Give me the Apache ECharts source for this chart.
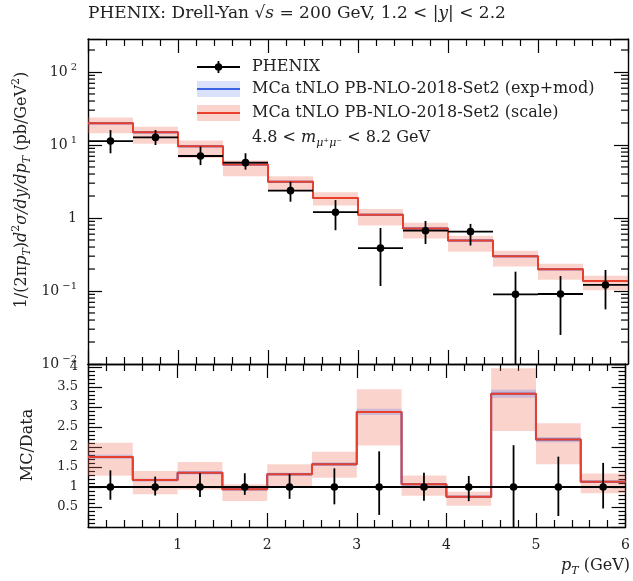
<!DOCTYPE html>
<html><head><meta charset="utf-8">
<script src="https://cdn.jsdelivr.net/npm/echarts@6/dist/echarts.min.js"></script>
<style>html,body{margin:0;padding:0;background:#fff}#c{width:633px;height:581px}</style>
</head><body><div id="c"></div>
<script>
// ---- data ----
const binEdges = [0, 0.5, 1, 1.5, 2, 2.5, 3, 3.5, 4, 4.5, 5, 5.5, 6];
const dataVal  = [11.3, 12.7, 7.07, 5.73, 2.37, 1.2, 0.386, 0.67, 0.65, 0.090, 0.091, 0.121];
const dataHi   = [16.0, 16.0, 9.5, 7.7, 3.14, 1.76, 0.73, 0.91, 0.83, 0.184, 0.16, 0.194];
const dataLo   = [7.7, 10.0, 5.3, 4.6, 1.67, 0.68, 0.117, 0.44, 0.42, 0, 0.025, 0.056];
const mcVal    = [19.8, 14.9, 9.6, 5.4, 3.13, 1.88, 1.11, 0.717, 0.49, 0.30, 0.199, 0.137];
const mcScaleLo= [14.5, 10.4, 6.65, 3.72, 2.32, 1.48, 0.787, 0.523, 0.345, 0.216, 0.143, 0.102];
const mcScaleHi= [23.8, 17.8, 11.5, 6.13, 3.72, 2.26, 1.33, 0.864, 0.572, 0.357, 0.236, 0.162];
const mcExpLo  = [19.2, 14.4, 9.3, 5.25, 3.04, 1.83, 1.08, 0.697, 0.476, 0.291, 0.193, 0.133];
const mcExpHi  = [20.4, 15.4, 9.9, 5.56, 3.22, 1.94, 1.14, 0.738, 0.505, 0.309, 0.205, 0.141];
const xTickLabels = ['1', '2', '3', '4', '5', '6'];
const logMultipliers = [2, 3, 4, 5, 6, 7, 8, 9];
const logDecades = [0.01, 0.1, 1, 10, 100];

const legendNames = ['PHENIX', 'MCa tNLO PB-NLO-2018-Set2 (exp+mod)', 'MCa tNLO PB-NLO-2018-Set2 (scale)'];

// ---- styles ----
const FONT = 'DejaVu Serif';
const RED = '#e8402c', RED_BAND = 'rgba(240,110,90,0.30)';
const BLUE = '#3b62e0', BLUE_BAND = 'rgba(70,110,235,0.25)';
const N = dataVal.length;
const centers = dataVal.map((_, i) => (binEdges[i] + binEdges[i + 1]) / 2);
const halfW = dataVal.map((_, i) => (binEdges[i + 1] - binEdges[i]) / 2);

const minorLog = [];
logDecades.forEach(d => logMultipliers.forEach(m => { if (d * m < 283) minorLog.push(d * m); }));

function bandSeries(x, y, lo, hi, color) {
  return {
    type: 'custom', xAxisIndex: x, yAxisIndex: y, clip: true, silent: true,
    data: dataVal.map((_, i) => [binEdges[i], binEdges[i + 1], lo[i], hi[i]]),
    renderItem: function (p, api) {
      const a = api.coord([api.value(0), api.value(3)]);
      const b = api.coord([api.value(1), api.value(2)]);
      return { type: 'rect', shape: { x: a[0], y: a[1], width: b[0] - a[0], height: b[1] - a[1] }, style: { fill: color } };
    }
  };
}
function stepSeries(x, y, vals, color, w) {
  return {
    type: 'line', xAxisIndex: x, yAxisIndex: y, step: 'end', symbol: 'none', silent: true,
    lineStyle: { color: color, width: w }, clip: true,
    data: binEdges.map((e, i) => [e, vals[Math.min(i, N - 1)]])
  };
}
function pointSeries(x, y, vals, lo, hi, floor) {
  return {
    type: 'custom', xAxisIndex: x, yAxisIndex: y, clip: true, silent: true, z: 10,
    data: vals.map((v, i) => [centers[i], v, Math.max(lo[i], floor), hi[i], halfW[i]]),
    renderItem: function (p, api) {
      const xc = api.value(0), v = api.value(1), hw = api.value(4);
      const c = api.coord([xc, v]);
      const l = api.coord([xc - hw, v]), r = api.coord([xc + hw, v]);
      const lo = api.coord([xc, api.value(2)]), hi = api.coord([xc, api.value(3)]);
      const st = { stroke: '#000', lineWidth: 1.8 };
      return { type: 'group', children: [
        { type: 'line', shape: { x1: l[0], y1: c[1], x2: r[0], y2: c[1] }, style: st },
        { type: 'line', shape: { x1: c[0], y1: hi[1], x2: c[0], y2: lo[1] }, style: st },
        { type: 'circle', shape: { cx: c[0], cy: c[1], r: 3.8 }, style: { fill: '#000' } }
      ] };
    }
  };
}

const axisLine = { show: true, onZero: false, lineStyle: { color: '#000', width: 1.4 } };
const tickStyle = { color: '#000', width: 1.2 };
function xAx(grid, pos, labels) {
  return {
    type: 'value', gridIndex: grid, position: pos, min: 0, max: 6, interval: 1,
    axisLine: axisLine, splitLine: { show: false },
    axisTick: { show: true, inside: true, length: 14, lineStyle: tickStyle },
    minorTick: { show: true, splitNumber: 5, length: 7, lineStyle: tickStyle },
    axisLabel: labels ? {
      show: true, margin: 11, color: '#222', fontFamily: FONT, fontSize: 14,
      formatter: v => { const k = Math.round(v); return (Math.abs(v - k) < 1e-6 && k >= 1) ? xTickLabels[k - 1] : ''; }
    } : { show: false }
  };
}
function logLabel(v) {
  const l = Math.log10(v), e = Math.round(l);
  if (Math.abs(l - e) > 1e-6) return '';
  if (e === 0) return '{b|1}';
  return '{b|10}{s|' + (e < 0 ? '\u2212' + (-e) : e) + '}';
}
function yLog(pos, labels) {
  return {
    type: 'log', gridIndex: 0, position: pos, min: 0.01, max: 283, logBase: 10,
    axisLine: axisLine, splitLine: { show: false },
    axisTick: { show: true, inside: true, length: 14, lineStyle: tickStyle },
    axisLabel: labels ? {
      show: true, margin: 11, color: '#222', fontFamily: FONT, formatter: logLabel,
      rich: { b: { fontSize: 14, fontFamily: FONT, color: '#222', lineHeight: 19 },
              s: { fontSize: 10, fontFamily: FONT, color: '#222', verticalAlign: 'top', lineHeight: 10, padding: [0, 0, 0, 3] } }
    } : { show: false }
  };
}
function yRatio(pos, labels) {
  return {
    type: 'value', gridIndex: 1, position: pos, min: 0, max: 4.075, interval: 0.5,
    axisLine: axisLine, splitLine: { show: false },
    axisTick: { show: true, inside: true, length: 14, lineStyle: tickStyle },
    minorTick: { show: true, splitNumber: 5, length: 7, lineStyle: tickStyle },
    axisLabel: labels ? {
      show: true, margin: 10, color: '#222', fontFamily: FONT, fontSize: 13,
      formatter: v => (v > 0 && Math.abs(v * 2 - Math.round(v * 2)) < 1e-6) ? String(v) : ''
    } : { show: false }
  };
}

const ratio = (arr) => arr.map((v, i) => v / dataVal[i]);

const option = {
  animation: false,
  backgroundColor: '#fff',
  grid: [
    { left: 88, top: 39, width: 540, height: 325 },
    { left: 88, top: 364, width: 540, height: 163 }
  ],
  xAxis: [xAx(0, 'bottom', false), xAx(0, 'top', false), xAx(1, 'bottom', true), xAx(1, 'top', false)],
  yAxis: [yLog('left', true), yLog('right', false), yRatio('left', true), yRatio('right', false)],
  series: [
    // main log minor ticks
    {
      type: 'custom', xAxisIndex: 0, yAxisIndex: 0, silent: true, clip: true,
      data: minorLog.map(v => [v]),
      renderItem: function (p, api) {
        const a = api.coord([0, api.value(0)]), b = api.coord([6, api.value(0)]);
        const st = { stroke: '#000', lineWidth: 1.2 };
        return { type: 'group', children: [
          { type: 'line', shape: { x1: a[0], y1: a[1], x2: a[0] + 7, y2: a[1] }, style: st },
          { type: 'line', shape: { x1: b[0] - 7, y1: b[1], x2: b[0], y2: b[1] }, style: st }
        ] };
      }
    },
    bandSeries(0, 0, mcScaleLo, mcScaleHi, RED_BAND),
    bandSeries(0, 0, mcExpLo, mcExpHi, BLUE_BAND),
    stepSeries(0, 0, mcVal, BLUE, 2),
    stepSeries(0, 0, mcVal, RED, 2),
    pointSeries(0, 0, dataVal, dataLo, dataHi, 1e-4),
    // ratio panel
    bandSeries(2, 2, ratio(mcScaleLo), ratio(mcScaleHi), RED_BAND),
    bandSeries(2, 2, ratio(mcExpLo), ratio(mcExpHi), BLUE_BAND),
    stepSeries(2, 2, ratio(mcVal), BLUE, 2),
    stepSeries(2, 2, ratio(mcVal), RED, 2),
    Object.assign(pointSeries(2, 2, ratio(dataVal), ratio(dataLo), ratio(dataHi), 0), {
      markLine: { silent: true, symbol: 'none', label: { show: false },
        lineStyle: { color: '#000', width: 2, type: 'solid' }, data: [{ yAxis: 1 }] }
    })
  ],
  graphic: [
    // title
    { type: 'text', left: 88, top: 5, silent: true, style: {
      text: '{n|PHENIX: Drell-Yan }{n|\u221A}{i|s}{n| = 200 GeV, 1.2 < |}{i|y}{n|| < 2.2}',
      rich: { n: { fontFamily: FONT, fontSize: 17, fill: '#222' }, i: { fontFamily: FONT, fontSize: 17, fontStyle: 'italic', fill: '#222' } }
    } },
    // legend
    { type: 'line', shape: { x1: 197, y1: 67, x2: 240, y2: 67 }, style: { stroke: '#000', lineWidth: 1.8 }, silent: true },
    { type: 'line', shape: { x1: 218.5, y1: 61, x2: 218.5, y2: 73 }, style: { stroke: '#000', lineWidth: 1.8 }, silent: true },
    { type: 'circle', shape: { cx: 218.5, cy: 67, r: 3.8 }, style: { fill: '#000' }, silent: true },
    { type: 'rect', shape: { x: 197, y: 81, width: 43, height: 16 }, style: { fill: 'rgba(70,110,235,0.2)' }, silent: true },
    { type: 'line', shape: { x1: 197, y1: 89, x2: 240, y2: 89 }, style: { stroke: BLUE, lineWidth: 2 }, silent: true },
    { type: 'rect', shape: { x: 197, y: 105, width: 43, height: 16 }, style: { fill: RED_BAND }, silent: true },
    { type: 'line', shape: { x1: 197, y1: 113, x2: 240, y2: 113 }, style: { stroke: RED, lineWidth: 2 }, silent: true },
    { type: 'text', x: 252, y: 67, silent: true, style: { text: legendNames[0], fontFamily: FONT, fontSize: 16, fill: '#222', verticalAlign: 'middle' } },
    { type: 'text', x: 252, y: 89, silent: true, style: { text: legendNames[1], fontFamily: FONT, fontSize: 16, fill: '#222', verticalAlign: 'middle' } },
    { type: 'text', x: 252, y: 113, silent: true, style: { text: legendNames[2], fontFamily: FONT, fontSize: 16, fill: '#222', verticalAlign: 'middle' } },
    { type: 'text', x: 252, y: 138, silent: true, style: {
      text: '{n|4.8 < }{i|m}{sb|\u03BC\u207A\u03BC\u207B}{n| < 8.2 GeV}', verticalAlign: 'middle',
      rich: { n: { fontFamily: FONT, fontSize: 16, fill: '#222', lineHeight: 22 },
              i: { fontFamily: FONT, fontSize: 16, fontStyle: 'italic', fill: '#222', lineHeight: 22 },
              sb: { fontFamily: FONT, fontSize: 11, fontStyle: 'italic', fill: '#222', lineHeight: 11, verticalAlign: 'bottom' } }
    } },
    // y title main
    { type: 'text', x: 22, y: 190, rotation: Math.PI / 2, silent: true, style: {
      text: '{n|1/(2\u03C0}{i|p}{sb|T}{n|)}{i|d}{sp|2}{i|\u03C3/dy/dp}{sb|T}{n| (pb/GeV}{sp|2}{n|)}',
      align: 'center', verticalAlign: 'middle',
      rich: { n: { fontFamily: FONT, fontSize: 16, fill: '#222', lineHeight: 22 },
              i: { fontFamily: FONT, fontSize: 16, fontStyle: 'italic', fill: '#222', lineHeight: 22 },
              sb: { fontFamily: FONT, fontSize: 11, fontStyle: 'italic', fill: '#222', lineHeight: 11, verticalAlign: 'bottom' },
              sp: { fontFamily: FONT, fontSize: 11, fill: '#222', lineHeight: 11, verticalAlign: 'top' } }
    } },
    // y title ratio
    { type: 'text', x: 28, y: 445, rotation: Math.PI / 2, silent: true, style: {
      text: 'MC/Data', align: 'center', verticalAlign: 'middle', fontFamily: FONT, fontSize: 16, fill: '#222'
    } },
    // x title
    { type: 'text', x: 630, y: 566, silent: true, style: {
      text: '{i|p}{sb|T}{n| (GeV)}', align: 'right', verticalAlign: 'middle',
      rich: { n: { fontFamily: FONT, fontSize: 16, fill: '#222', lineHeight: 22 },
              i: { fontFamily: FONT, fontSize: 16, fontStyle: 'italic', fill: '#222', lineHeight: 22 },
              sb: { fontFamily: FONT, fontSize: 11, fontStyle: 'italic', fill: '#222', lineHeight: 11, verticalAlign: 'bottom' } }
    } }
  ]
};
const chart = echarts.init(document.getElementById('c'), null, { renderer: 'canvas' });
chart.setOption(option);
</script>
</body></html>
